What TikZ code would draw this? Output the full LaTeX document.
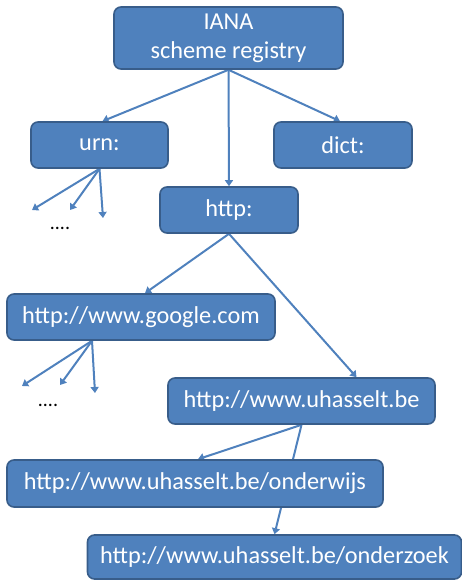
\documentclass[tikz,border=0pt]{standalone}
\usepackage{fontspec}
\setmainfont{Carlito}
\usetikzlibrary{arrows.meta}
\pgfdeclarelayer{background}
\pgfsetlayers{background,main}
\definecolor{boxfill}{HTML}{4F81BD}
\definecolor{boxline}{HTML}{385D8A}
\tikzstyle{box} = [rectangle, rounded corners=7pt, fill=boxfill, draw=boxline, line width=1.6pt, text=white, align=center, inner sep=0pt, font=\fontsize{24.3}{29}\selectfont]
\tikzstyle{link} = [draw=boxfill, line width=2pt, -{Triangle[width=8pt,length=6pt]}]

\begin{document}
\begin{tikzpicture}[x=1pt,y=-1pt]
    \useasboundingbox (0,0) rectangle (462,580);
    % Nodes
    \node[box, minimum width=229pt, minimum height=62pt] (iana) at (228.5,38) {IANA\\scheme registry};
    \node[box, minimum width=137pt, minimum height=46pt] (urn) at (99.5,145) {urn:};
    \node[box, minimum width=138pt, minimum height=46pt] (dict) at (343,145) {dict:};
    \node[box, minimum width=138pt, minimum height=46pt] (http) at (229,210) {http:};
    \node[box, minimum width=268pt, minimum height=46pt] (google) at (141,317) {http://www.google.com};
    \node[box, minimum width=267pt, minimum height=46pt] (hasselt) at (301.5,401) {http://www.uhasselt.be};
    \node[box, minimum width=376pt, minimum height=47pt] (wijs) at (195,483.5) {http://www.uhasselt.be/onderwijs};
    \node[box, minimum width=374pt, minimum height=44pt] (zoek) at (274.5,557) {http://www.uhasselt.be/onderzoek};
    \node[font=\fontsize{20}{20}\selectfont] (udots) at (60,228) {....};
    \node[font=\fontsize{20}{20}\selectfont] (gdots) at (48,405) {....};
    \coordinate (u1) at (32,210);
    \coordinate (u2) at (70,210);
    \coordinate (u3) at (103,218);
    \coordinate (g1) at (22,386);
    \coordinate (g2) at (60,385);
    \coordinate (g3) at (95,393);
    % Edges
    \begin{pgfonlayer}{background}
    \draw[link] (iana.south) -- ([xshift=3pt]urn.north);
    \draw[link] (iana.south) -- (http.north);
    \draw[link] (iana.south) -- ([xshift=-3pt]dict.north);
    \foreach \i in {1,2,3}
      \draw[link] (urn.south) -- (u\i);
    \draw[link] (http.south) -- ([xshift=4pt]google.north);
    \draw[link] (http.south) -- ([xshift=55pt]hasselt.north);
    \foreach \i in {1,2,3}
      \draw[link] ([xshift=-49pt]google.south) -- (g\i);
    \draw[link] (hasselt.south) -- ([xshift=3pt]wijs.north);
    \draw[link] (hasselt.south) -- (zoek.north);
    \end{pgfonlayer}
\end{tikzpicture}
\end{document}
